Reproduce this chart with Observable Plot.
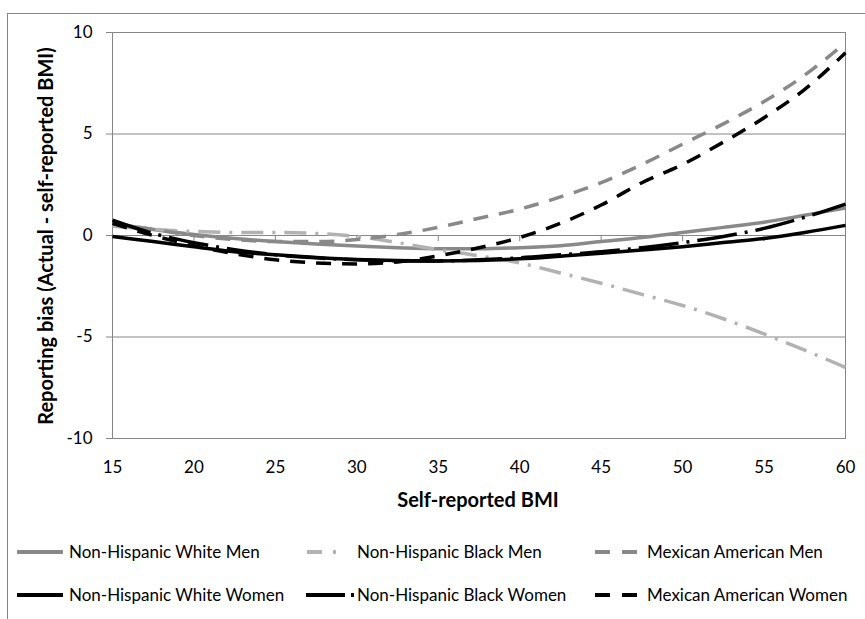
<!DOCTYPE html>
<html><head><meta charset="utf-8">
<script src="https://cdn.jsdelivr.net/npm/d3@7"></script>
<script src="https://cdn.jsdelivr.net/npm/@observablehq/plot@0.6"></script>
<style>
body{margin:0;background:#fff;font-family:Lato,"Open Sans",sans-serif;}
#wrap{position:relative;width:865px;height:619px;overflow:hidden;background:#fff;}
#border{position:absolute;left:7px;top:13px;width:900px;height:700px;border:1px solid #868686;box-sizing:border-box;}
#chart{position:absolute;left:0;top:0;}
.title{position:absolute;font-weight:bold;font-size:20px;color:#000;white-space:nowrap;}
.legtext{position:absolute;font-size:17px;color:#000;white-space:nowrap;line-height:20px;}
.sw{position:absolute;}
</style></head>
<body><div id="wrap"><div id="border"></div><div id="chart"></div></div>
<script>
const bmi = [15,17.5,20,22.5,25,27.5,30,32.5,35,37.5,40,42.5,45,47.5,50,52.5,55,57.5,60];
const nhWhiteMen   = [0.6,0.3,0.05,-0.15,-0.3,-0.42,-0.52,-0.6,-0.65,-0.65,-0.6,-0.5,-0.3,-0.1,0.15,0.4,0.65,1.0,1.35];
const nhBlackMen   = [0.45,0.3,0.2,0.15,0.15,0.1,-0.05,-0.35,-0.7,-1.0,-1.35,-1.85,-2.35,-2.9,-3.45,-4.1,-4.85,-5.65,-6.5];
const mexAmMen     = [0.6,0.3,0.0,-0.2,-0.3,-0.3,-0.2,0.05,0.4,0.85,1.3,1.9,2.6,3.5,4.5,5.5,6.6,7.9,9.5];
const nhWhiteWomen = [-0.05,-0.3,-0.55,-0.8,-0.95,-1.08,-1.18,-1.23,-1.25,-1.23,-1.15,-1.02,-0.88,-0.72,-0.55,-0.35,-0.15,0.15,0.5];
const nhBlackWomen = [0.75,0.1,-0.35,-0.7,-0.95,-1.1,-1.2,-1.25,-1.25,-1.2,-1.1,-0.95,-0.8,-0.6,-0.35,-0.05,0.35,0.9,1.55];
const mexAmWomen   = [0.6,0.0,-0.5,-0.9,-1.2,-1.35,-1.4,-1.3,-1.0,-0.6,-0.1,0.6,1.5,2.6,3.5,4.6,5.8,7.2,9.0];
const seriesNames = ["Non-Hispanic White Men","Non-Hispanic Black Men","Mexican American Men","Non-Hispanic White Women","Non-Hispanic Black Women","Mexican American Women"];
const xTicks = [15,20,25,30,35,40,45,50,55,60];
const yTicks = [-10,-5,0,5,10];
const xTitle = "Self-reported BMI";
const yTitle = "Reporting bias (Actual - self-reported BMI)";

const seriesValues = [nhWhiteMen, nhBlackMen, mexAmMen, nhWhiteWomen, nhBlackWomen, mexAmWomen];
const seriesStyle = [
  {stroke:"#898989", dash:null},
  {stroke:"#b2b2b2", dash:"22,9,3,9"},
  {stroke:"#898989", dash:"15,11"},
  {stroke:"#000000", dash:null},
  {stroke:"#000000", dash:"40,8,3,8"},
  {stroke:"#000000", dash:"15,11"}
];
const legendSwatch = [
  {dash:null, w:46},
  {dash:"15,11,3,40", w:46},
  {dash:"15,12,15,20", w:42},
  {dash:null, w:46},
  {dash:"39,6,3,40", w:48},
  {dash:"15,12,15,20", w:42}
];
const legendPos = [[17,69,552],[307,357,552],[595,647,552],[17,69,595],[306,357,595],[595,647,595]];

const rows = vals => bmi.map((b,i)=>({bmi:b, bias:vals[i]}));
const lineMarks = seriesValues.map((vals,i)=>Plot.line(rows(vals),{
  x:"bmi", y:"bias", stroke:seriesStyle[i].stroke, strokeWidth:3.5,
  strokeDasharray:seriesStyle[i].dash || undefined, curve:"monotone-x", strokeLinecap:"butt"
}));

const plot = Plot.plot({
  width:865, height:520,
  marginLeft:112, marginRight:20, marginTop:32, marginBottom:82,
  style:{fontFamily:"Lato, 'Open Sans', sans-serif", fontSize:"17px", background:"transparent", color:"#000", overflow:"visible"},
  x:{domain:[15,60]},
  y:{domain:[-10,10]},
  marks:[
    Plot.gridY(yTicks,{stroke:"#868686", strokeOpacity:1}),
    Plot.frame({stroke:"#868686"}),
    Plot.ruleX(xTicks,{x:d=>d, y1:0, y2:-0.3, stroke:"#868686"}),
    Plot.axisY(yTicks,{tickSize:6, tickPadding:14, stroke:"#868686", label:null, tickFormat:d=>String(d)}),
    Plot.axisX(xTicks,{tickSize:0, tickPadding:22, label:null, tickFormat:d=>String(d)}),
    ...lineMarks
  ]
});
document.getElementById("chart").appendChild(plot);

const wrap = document.getElementById("wrap");
// axis titles
const xt = document.createElement("div");
xt.className="title"; xt.textContent=xTitle;
xt.style.left="478px"; xt.style.top="499px"; xt.style.transform="translate(-50%,-50%)";
wrap.appendChild(xt);
const yt = document.createElement("div");
yt.className="title"; yt.textContent=yTitle;
yt.style.left="45px"; yt.style.top="236px"; yt.style.transform="translate(-50%,-50%) rotate(-90deg)";
wrap.appendChild(yt);

// legend
seriesNames.forEach((name,i)=>{
  const [sx,tx,cy] = legendPos[i];
  const sw = legendSwatch[i];
  const svg = d3.create("svg").attr("class","sw").attr("width",sw.w).attr("height",8)
    .style("left",sx+"px").style("top",(cy-4)+"px");
  const ln = svg.append("line").attr("x1",0).attr("x2",sw.w).attr("y1",4).attr("y2",4)
    .attr("stroke",seriesStyle[i].stroke).attr("stroke-width",4);
  if (sw.dash) ln.attr("stroke-dasharray",sw.dash);
  wrap.appendChild(svg.node());
  const t = document.createElement("div");
  t.className="legtext"; t.textContent=name;
  t.style.left=tx+"px"; t.style.top=(cy-10)+"px";
  wrap.appendChild(t);
});
</script>
</body></html>
